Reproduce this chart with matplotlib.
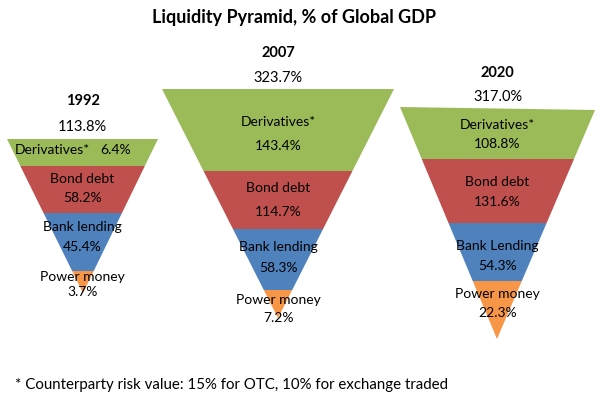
import matplotlib
matplotlib.use("Agg")
import matplotlib.pyplot as plt

# data
years = ["1992", "2007", "2020"]
totals = ["113.8%", "323.7%", "317.0%"]
segments = ["Derivatives*", "Bond debt", "Bank lending", "Power money"]
seg_names_2020 = ["Derivatives*", "Bond debt", "Bank Lending", "Power money"]
values_1992 = [6.4, 58.2, 45.4, 3.7]
values_2007 = [143.4, 114.7, 58.3, 7.2]
values_2020 = [108.8, 131.6, 54.3, 22.3]

colors = ["#9BBB59", "#C0504D", "#4F81BD", "#F79646"]

# layout (pixel coords, y down): top-left, top-right, apex, band boundaries
shapes = [
    dict(tl=(7, 139), tr=(158, 139), apex=(83, 293), cuts=[166, 213, 271]),
    dict(tl=(162, 89), tr=(394, 89), apex=(278, 318), cuts=[171, 229, 290]),
    dict(tl=(400, 107), tr=(595, 110), apex=(497, 339), cuts=[159, 223, 281]),
]
# label y positions (name, value) per band
label_y = [
    [(150, 150), (179, 198), (227, 247), (277, 292)],
    [(122, 146), (188, 212), (247, 268), (300, 318)],
    [(125, 144), (182, 202), (246, 266), (294, 313)],
]
head_y = [(101, 127), (53, 78), (73, 97)]

plt.rcParams['font.family'] = ['Lato', 'DejaVu Sans']

fig = plt.figure(figsize=(6.04, 3.96), dpi=100)
ax = fig.add_axes([0, 0, 1, 1])
ax.set_xlim(0, 604)
ax.set_ylim(396, 0)
ax.axis("off")


def xat(p, apex, y):
    t = (y - p[1]) / (apex[1] - p[1])
    return p[0] + t * (apex[0] - p[0])


all_vals = [values_1992, values_2007, values_2020]
for i, sh in enumerate(shapes):
    tl, tr, apex = sh["tl"], sh["tr"], sh["apex"]
    bounds = [None] + sh["cuts"] + [apex[1]]
    for j in range(4):
        if j == 0:
            top = [tl, tr]
        else:
            y0 = bounds[j]
            top = [(xat(tl, apex, y0), y0), (xat(tr, apex, y0), y0)]
        if j == 3:
            bot = [apex]
        else:
            y1 = bounds[j + 1]
            bot = [(xat(tr, apex, y1), y1), (xat(tl, apex, y1), y1)]
        pts = top + bot
        ax.fill([p[0] for p in pts], [p[1] for p in pts], color=colors[j], lw=0)

    cx = (tl[0] + tr[0]) / 2
    ax.text(cx, head_y[i][0], years[i], ha="center", va="center",
            fontsize=10.5, fontweight="bold")
    ax.text(cx, head_y[i][1], totals[i], ha="center", va="center", fontsize=10.5)

    names = seg_names_2020 if i == 2 else segments
    vals = all_vals[i]
    for j in range(4):
        ny, vy = label_y[i][j]
        if i == 0 and j == 0:
            ax.text(cx - 30, ny, names[j], ha="center", va="center", fontsize=10)
            ax.text(cx + 33, ny, f"{vals[j]}%", ha="center", va="center", fontsize=10)
            continue
        ax.text(cx, ny, names[j], ha="center", va="center", fontsize=10)
        ax.text(cx, vy, f"{vals[j]}%", ha="center", va="center", fontsize=10)

ax.text(294, 17, "Liquidity Pyramid, % of Global GDP", ha="center", va="center",
        fontsize=13, fontweight="bold")
ax.text(15, 385, "* Counterparty risk value: 15% for OTC, 10% for exchange traded",
        ha="left", va="center", fontsize=10.8)

fig.savefig("out.png", dpi=100)
